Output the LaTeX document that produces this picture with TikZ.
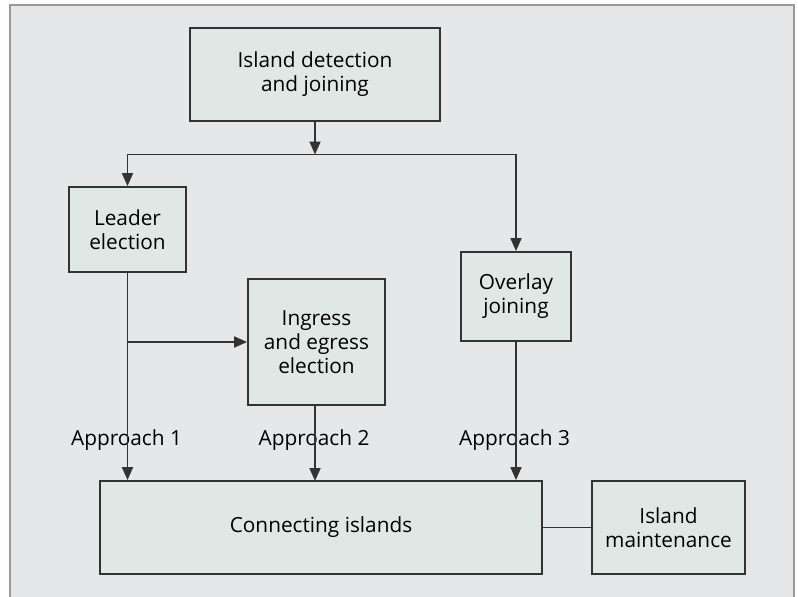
\documentclass[tikz,border=0pt]{standalone}
\usepackage{fontspec}
\setmainfont{Open Sans}
\usetikzlibrary{arrows.meta}

\definecolor{panelgray}{HTML}{E6E7E9}
\definecolor{boxfill}{HTML}{DFE8E5}
\definecolor{linegray}{HTML}{333333}

\tikzset{
  blockbox/.style={draw=linegray, line width=1.8pt, fill=boxfill, align=center,
    inner sep=0pt, font=\fontsize{20.8}{24}\selectfont},
  flow/.style={linegray, line width=1.8pt, -{Triangle[length=13pt,width=11pt]}},
  plain/.style={linegray, line width=1.8pt},
  approach/.style={anchor=base, inner sep=0pt, font=\fontsize{20.8}{24}\selectfont}
}

\begin{document}
\begin{tikzpicture}[x=1pt, y=-1pt]
\useasboundingbox (0,0) rectangle (798,597);
\fill[white] (0,0) rectangle (798,597);
\draw[fill=panelgray, draw=gray!80, line width=1.5pt] (10,605) -- (10,5) -- (794,5) -- (794,605);

% boxes
\node[blockbox, minimum width=250pt, minimum height=93pt] (detect) at (315,74.5) {Island detection\\and joining};
\node[blockbox, minimum width=117pt, minimum height=85pt] (leader) at (127.5,229.5) {Leader\\election};
\node[blockbox, minimum width=110pt, minimum height=89pt] (overlay) at (516,296.5) {Overlay\\joining};
\node[blockbox, minimum width=137pt, minimum height=126pt] (ingress) at (316.5,342) {Ingress\\and egress\\election};
\node[blockbox, minimum width=442pt, minimum height=93pt] (connect) at (321,527.5) {Connecting islands};
\node[blockbox, minimum width=153pt, minimum height=93pt] (maint) at (668.5,527.5) {Island\\maintenance};

% labels
\node[approach] (app1) at (126.5,445) {Approach 1};
\node[approach] (app2) at (314,445) {Approach 2};
\node[approach] (app3) at (514.5,445) {Approach 3};

\coordinate (split) at (315,154.5);
\coordinate (branch) at (127.5,342);

% connectors
\draw[flow] (detect.south) -- (split);
\draw[flow] (split) -| (leader.north);
\draw[flow] (split) -| (overlay.north);
\draw[flow] (leader.south) -- (leader.south |- connect.north);
\draw[flow] (branch) -- (ingress.west |- branch);
\draw[flow] (315,405) -- (315,481);
\draw[flow] (overlay.south) -- (overlay.south |- connect.north);
\draw[plain] (connect.east) -- (maint.west);

\end{tikzpicture}
\end{document}
